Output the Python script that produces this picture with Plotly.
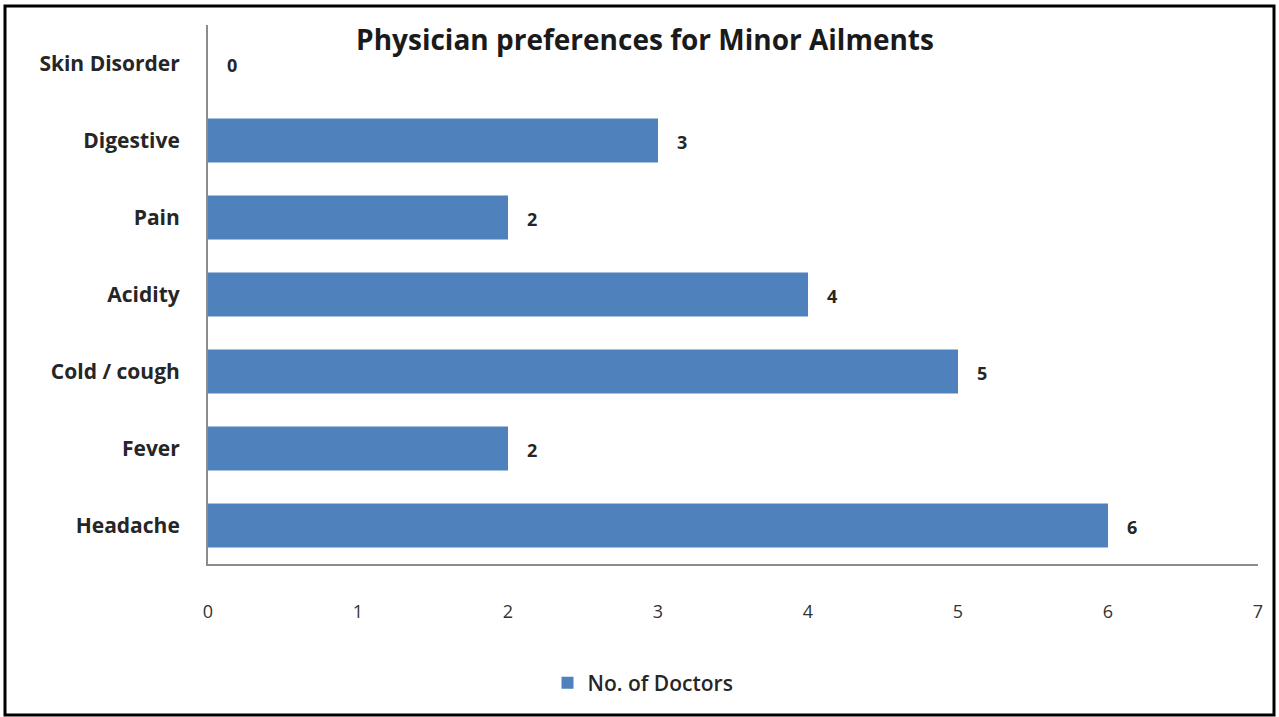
import plotly.graph_objects as go

categories = ["Headache", "Fever", "Cold / cough", "Acidity", "Pain", "Digestive", "Skin Disorder"]
doctors = [6, 2, 5, 4, 2, 3, 0]
x_ticks = [0, 1, 2, 3, 4, 5, 6, 7]

W, H = 1279, 717
L, R, T, B = 208, 21, 25, 153
FONT = "Open Sans"

fig = go.Figure()
fig.add_trace(go.Bar(
    y=categories, x=doctors, orientation="h",
    marker=dict(color="#4F81BD", line=dict(width=0)),
    width=0.57, name="No. of Doctors", showlegend=True,
))

for c, v in zip(categories, doctors):
    fig.add_annotation(x=v, y=c, text=f"<b>{v}</b>", showarrow=False,
                       xanchor="left", xshift=17, yshift=-1,
                       font=dict(family=FONT, size=18, color="#262626"))

fig.add_shape(type="rect", xref="paper", yref="paper",
              x0=(5 - L) / (W - L - R), x1=(1274 - L) / (W - L - R),
              y0=(H - B - 715) / (H - T - B), y1=(H - B - 6) / (H - T - B),
              line=dict(color="black", width=3), layer="above")

fig.update_layout(
    width=W, height=H,
    margin=dict(l=L, r=R, t=T, b=B),
    paper_bgcolor="white", plot_bgcolor="white",
    title=dict(text="<b>Physician preferences for Minor Ailments</b>",
               x=645 / W, xanchor="center", y=1 - 40 / H, yanchor="middle",
               font=dict(family=FONT, size=28, color="#1a1a1a")),
    font=dict(family=FONT, color="#333333"),
    legend=dict(orientation="h", x=(643 - L) / (W - L - R), xanchor="center",
                y=(H - B - 683) / (H - T - B), yanchor="middle",
                font=dict(family=FONT, size=21, color="#262626", weight=600),
                itemwidth=30),
    xaxis=dict(range=[0, 7], tickvals=x_ticks, showgrid=False, zeroline=False,
               showline=True, linecolor="#8c8c8c", linewidth=2,
               ticks="", ticklabelstandoff=30,
               tickfont=dict(family=FONT, size=18, color="#333333")),
    yaxis=dict(categoryorder="array", categoryarray=categories,
               showgrid=False, zeroline=False, showline=True,
               linecolor="#8c8c8c", linewidth=2, ticks="",
               ticklabelstandoff=22,
               tickfont=dict(family=FONT, size=21, color="#262626", weight="bold")),
)

fig.write_html("out.html", config={"displayModeBar": False},
               post_script="document.body.style.margin='0';")
